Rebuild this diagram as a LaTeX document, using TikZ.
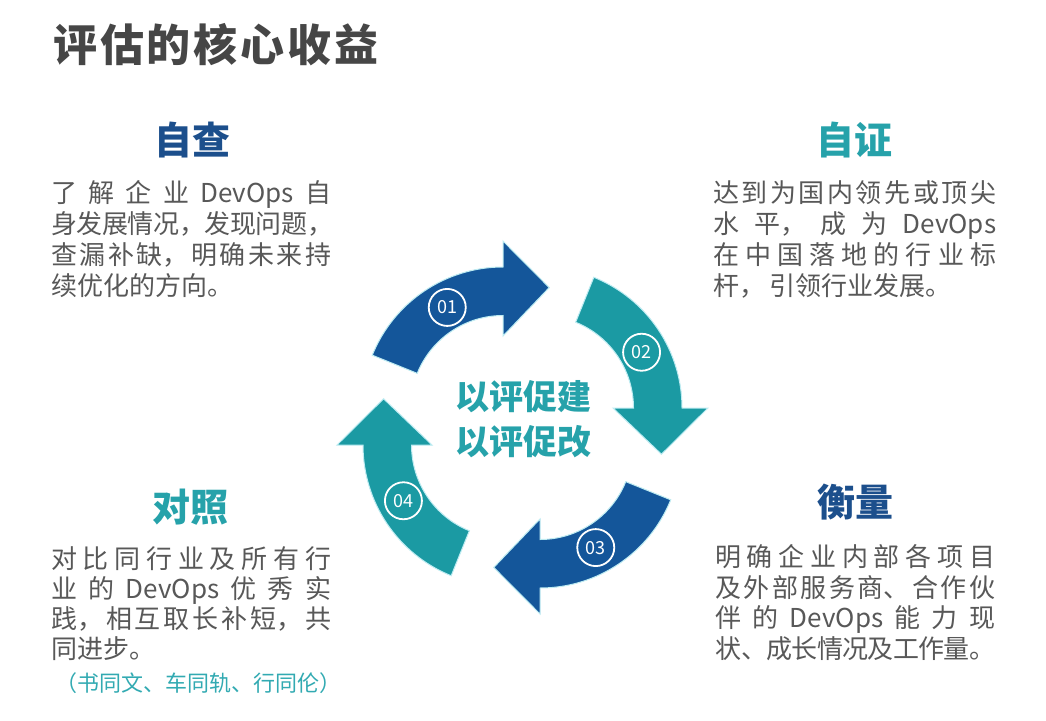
\documentclass[tikz,border=0pt]{standalone}
\usepackage{fontspec}
\setmainfont{Noto Sans CJK SC}
\definecolor{dblue}{RGB}{20,86,154}
\definecolor{tealc}{RGB}{27,154,163}
\definecolor{headblue}{RGB}{28,79,140}
\definecolor{headteal}{RGB}{38,162,170}
\definecolor{titlec}{RGB}{70,70,70}
\definecolor{bodyc}{RGB}{88,88,88}
\definecolor{subc}{RGB}{50,170,178}
\definecolor{glow}{RGB}{190,236,242}
\makeatletter
\newcommand\spreadline[2]{\hbox to #1{\let\sp@sep\relax\@tfor\sp@t:=#2\do{\sp@sep\sp@t\def\sp@sep{\hskip 0pt plus 1fil minus 4pt\relax}}}}
\makeatother
\tikzset{
  titlestyle/.style={anchor=base west, inner sep=0pt, text=titlec, font=\fontsize{44}{44}\selectfont\bfseries},
  headb/.style={inner sep=0pt, text=headblue, font=\fontsize{38}{38}\selectfont\bfseries},
  headt/.style={inner sep=0pt, text=headteal, font=\fontsize{38}{38}\selectfont\bfseries},
  body/.style={anchor=base west, inner sep=0pt, text=bodyc, font=\fontsize{26}{26}\selectfont},
  subline/.style={anchor=base west, inner sep=0pt, text=subc, font=\fontsize{22}{22}\selectfont},
  centertext/.style={inner sep=0pt, text=headteal, font=\fontsize{34}{34}\selectfont\bfseries},
  numc/.style={circle, draw=white, line width=1.8pt, minimum size=37pt, inner sep=0pt, text=white, font=\fontsize{18}{18}\selectfont},
  arrowshape/.style={draw=glow, line width=1pt}
}
\newcommand\cycarrow[5]{%
  \begin{scope}[shift={(#1,#2)}]
    \pgfmathsetmacro\tailang{#3-68}
    \path[arrowshape, fill=#4]
      (\tailang:141) arc[start angle=\tailang, end angle=#3, radius=141]
      -- (#3:167) -- ({#3+21}:129) -- (#3:72) -- (#3:92.5)
      arc[start angle=#3, end angle=\tailang, radius=92.5] -- cycle;
    \node[numc] (n#5) at ({#3-29}:115) {#5};
  \end{scope}}
\begin{document}
\begin{tikzpicture}[x=1pt,y=-1pt]
\path[fill=white] (0,0) rectangle (1046,720);
\useasboundingbox (0,0) rectangle (1046,720);

% title
\node[titlestyle] (title) at (53,61) {\spreadline{325pt}{评估的核心收益}};

% cycle arrows
\cycarrow{503}{408}{270}{dblue}{01}
\cycarrow{541}{408}{360}{tealc}{02}
\cycarrow{540}{447}{90}{dblue}{03}
\cycarrow{504}{445}{180}{tealc}{04}

% centre text
\node[centertext] (c1) at (523,397) {以评促建};
\node[centertext] (c2) at (523,442) {以评促改};

% headings
\node[headb] (h1) at (192,140) {自查};
\node[headt] (h2) at (854,140) {自证};
\node[headt] (h3) at (190,507) {对照};
\node[headb] (h4) at (855,502) {衡量};

% top-left text
\node[body] (a1) at (51,202) {\spreadline{280pt}{了解企业{DevOps}自}};
\node[body] (a2) at (51,233) {\spreadline{282pt}{身发展情{况，}发现问{题，}}};
\node[body] (a3) at (51,264) {\spreadline{280pt}{查漏补{缺，}明确未来持}};
\node[body] (a4) at (51,295) {续优化的方向。};

% top-right text
\node[body] (b1) at (713,202) {\spreadline{283pt}{达到为国内领先或顶尖}};
\node[body] (b2) at (713,233) {\spreadline{283pt}{水{平，}成为{DevOps}}};
\node[body] (b3) at (713,264) {\spreadline{283pt}{在中国落地的行业标}};
\node[body] (b4) at (713,295) {杆，\hspace{4pt}引领行业发展。};

% bottom-left text
\node[body] (d1) at (51,568) {\spreadline{280pt}{对比同行业及所有行}};
\node[body] (d2) at (51,598) {\spreadline{280pt}{业的{DevOps}优秀实}};
\node[body] (d3) at (51,628) {\spreadline{280pt}{{践，}相互取长补{短，}共}};
\node[body] (d4) at (51,658) {同进步。};
\node[subline] (d5) at (55,691) {（书同文、车同轨、行同伦）};

% bottom-right text
\node[body] (e1) at (715,566) {\spreadline{280pt}{明确企业内部各项目}};
\node[body] (e2) at (715,597) {\spreadline{280pt}{及外部服务{商、}合作伙}};
\node[body] (e3) at (715,627) {\spreadline{280pt}{伴的{DevOps}能力现}};
\node[body] (e4) at (715,658) {\spreadline{280pt}{{状、}成长情况及工作量。}};
\end{tikzpicture}
\end{document}
